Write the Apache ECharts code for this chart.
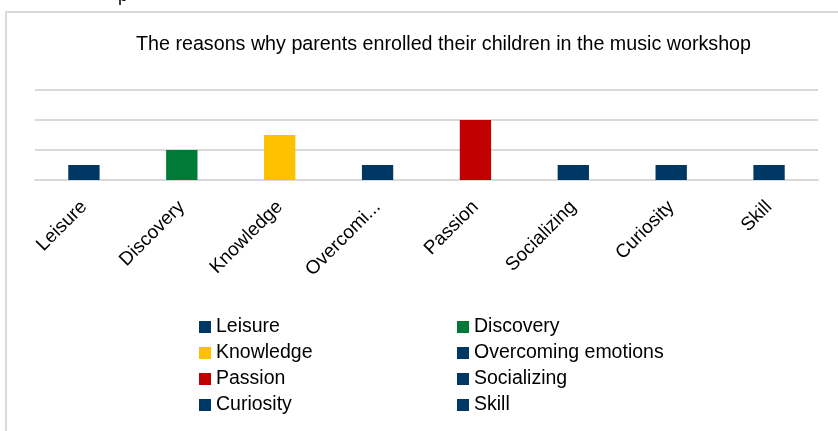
<!DOCTYPE html>
<html>
<head>
<meta charset="utf-8">
<script src="https://cdn.jsdelivr.net/npm/echarts@6/dist/echarts.min.js"></script>
<style>html,body{margin:0;padding:0;background:#fff}#c{width:838px;height:431px}</style>
</head>
<body>
<div id="c"></div>
<script>
const categories = ['Leisure', 'Discovery', 'Knowledge', 'Overcoming emotions', 'Passion', 'Socializing', 'Curiosity', 'Skill'];
const values = [1, 2, 3, 1, 4, 1, 1, 1];
const yTicks = [0, 2, 4, 6];
const colors = ['#003865', '#007a37', '#ffc000', '#003865', '#c00000', '#003865', '#003865', '#003865'];
const leftLegend = ['Leisure', 'Knowledge', 'Passion', 'Curiosity'];
const rightLegend = ['Discovery', 'Overcoming emotions', 'Socializing', 'Skill'];

const FONT = 'Liberation Sans';
const chart = echarts.init(document.getElementById('c'), null, {renderer: 'canvas'});

const series = categories.map((name, i) => ({
  name: name,
  type: 'bar',
  stack: 'all',
  barWidth: '32%',
  itemStyle: {color: colors[i]},
  data: values.map((v, j) => (j === i ? v : '-'))
}));

const legendBase = {
  orient: 'vertical',
  icon: 'rect',
  itemWidth: 12,
  itemHeight: 12,
  itemGap: 6,
  padding: 0,
  textStyle: {fontFamily: FONT, fontSize: 19.5, color: '#000', lineHeight: 20}
};

chart.setOption({
  animation: false,
  backgroundColor: '#fff',
  title: {
    text: 'The reasons why parents enrolled their children in the music workshop',
    left: 136, top: 35, padding: 0,
    textStyle: {fontFamily: FONT, fontSize: 19.7, fontWeight: 'normal', color: '#000'}
  },
  graphic: [
    {type: 'rect', silent: true, shape: {x: 6, y: 12, width: 900, height: 500},
     style: {fill: 'none', stroke: '#d9d9d9', lineWidth: 2}},
    {type: 'text', silent: true, x: 118, y: -13,
     style: {text: 'p', font: '18px ' + FONT, fill: '#000'}}
  ],
  legend: [
    Object.assign({}, legendBase, {left: 199, top: 317, data: leftLegend}),
    Object.assign({}, legendBase, {left: 457, top: 317, data: rightLegend})
  ],
  grid: {left: 35, right: 20, top: 90, bottom: 251, containLabel: false},
  xAxis: {
    type: 'category',
    data: categories,
    axisTick: {show: false},
    axisLine: {show: true, lineStyle: {color: '#d9d9d9', width: 2}},
    axisLabel: {
      rotate: 45,
      margin: 24,
      interval: 0,
      fontFamily: FONT, fontSize: 19, color: '#000',
      formatter: v => (v.length > 12 ? v.slice(0, 8) + '...' : v)
    }
  },
  yAxis: {
    type: 'value',
    min: yTicks[0], max: yTicks[yTicks.length - 1], interval: yTicks[1] - yTicks[0],
    axisLabel: {show: false},
    axisLine: {show: false},
    axisTick: {show: false},
    splitLine: {lineStyle: {color: '#d9d9d9', width: 2}}
  },
  series: series
});
</script>
</body>
</html>
